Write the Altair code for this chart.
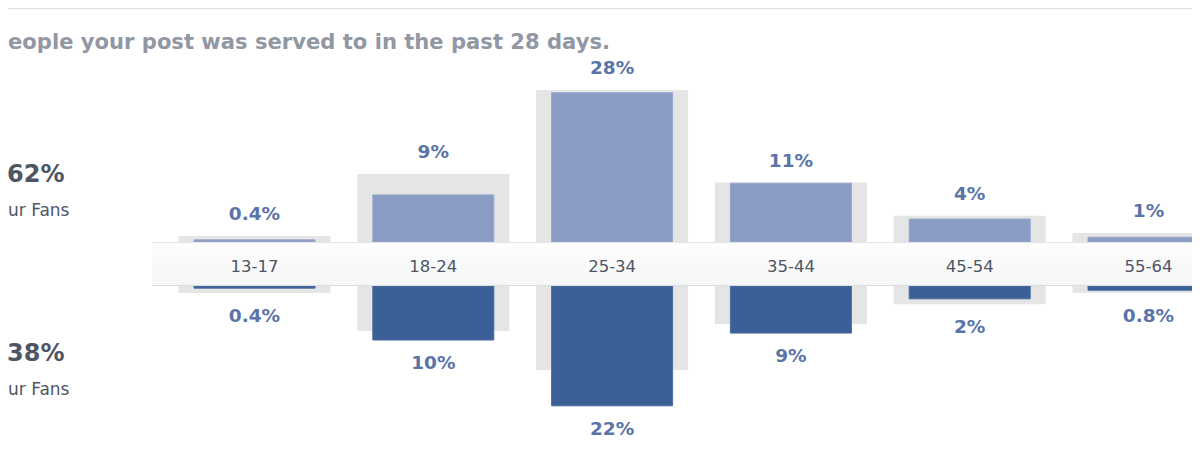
import altair as alt
import pandas as pd

# ---- data ----
ages = ["13-17", "18-24", "25-34", "35-44", "45-54", "55-64"]
top_vals = [0.4, 8.8, 27.9, 11.0, 4.3, 0.9]       # upper (light) bars, %
top_bg = [1.1, 12.7, 28.4, 11.1, 4.9, 1.7]        # grey comparison boxes above
bot_vals = [0.4, 10.1, 22.4, 8.8, 2.4, 0.8]       # lower (dark) bars, %
bot_bg = [1.3, 8.4, 15.7, 7.1, 3.4, 1.3]          # grey comparison boxes below
top_labels = ["0.4%", "9%", "28%", "11%", "4%", "1%"]
bot_labels = ["0.4%", "10%", "22%", "9%", "2%", "0.8%"]
shares = ["62%", "38%"]
share_captions = ["ur Fans", "ur Fans"]
headline = "eople your post was served to in the past 28 days."

df = pd.DataFrame({
    "age": ages, "top": top_vals, "top_bg": top_bg,
    "bot": bot_vals, "bot_bg": bot_bg,
    "top_lbl": top_labels, "bot_lbl": bot_labels,
})
df["top_max"] = df[["top", "top_bg"]].max(axis=1)
df["bot_max"] = df[["bot", "bot_bg"]].max(axis=1)

W, H = 1184, 446
FONT = "DejaVu Sans"

xs = alt.Scale(type="band", domain=ages, range=[157.1, 1229.9], paddingInner=0, paddingOuter=0,
               round=False)
X = alt.X("age:N", scale=xs, axis=None)
top_scale = alt.Scale(domain=[0, 30], range=[234, 73.5], nice=False, zero=True, round=False)
bot_scale = alt.Scale(domain=[0, 30], range=[278, 438.5], nice=False, zero=True, round=False)

base = alt.Chart(df)

top_grey = base.mark_bar(size=152, color="#e5e5e5").encode(
    x=X, y=alt.Y("top_bg:Q", scale=top_scale, axis=None))
bot_grey = base.mark_bar(size=152, color="#e5e5e5").encode(
    x=X, y=alt.Y("bot_bg:Q", scale=bot_scale, axis=None))
top_bar = base.mark_bar(size=121, color="#8b9cc4", stroke="#97a7cc", strokeWidth=1).encode(
    x=X, y=alt.Y("top:Q", scale=top_scale, axis=None))
bot_bar = base.mark_bar(size=121, color="#3b6097", stroke="#4b6da0", strokeWidth=1).encode(
    x=X, y=alt.Y("bot:Q", scale=bot_scale, axis=None))

one = alt.Data(values=[{"k": 1}])
band = alt.Chart(one).mark_rect(
    color=alt.Gradient(gradient="linear", x1=0, y1=0, x2=0, y2=1,
                       stops=[alt.GradientStop(color="#fdfdfd", offset=0),
                              alt.GradientStop(color="#f5f6f7", offset=1)])
).encode(x=alt.value(144), x2=alt.value(W), y=alt.value(234), y2=alt.value(278))
band_top = alt.Chart(one).mark_rule(color="#e2e3e6", strokeWidth=1).encode(
    x=alt.value(144), x2=alt.value(W), y=alt.value(234.5))
band_bot = alt.Chart(one).mark_rule(color="#dadce0", strokeWidth=1).encode(
    x=alt.value(144), x2=alt.value(W), y=alt.value(277.5))
top_line = alt.Chart(one).mark_rule(color="#dddfe2", strokeWidth=1.5).encode(
    x=alt.value(0), x2=alt.value(W), y=alt.value(0.5))

cat_text = base.mark_text(font=FONT, fontSize=16.5, color="#4e5665", baseline="alphabetic").encode(
    x=X, y=alt.value(264), text="age:N")
top_text = base.mark_text(font=FONT, fontSize=18.5, fontWeight="bold", color="#5a74a8",
                          baseline="alphabetic", dy=-16).encode(
    x=X, y=alt.Y("top_max:Q", scale=top_scale, axis=None), text="top_lbl:N")
bot_text = base.mark_text(font=FONT, fontSize=18.5, fontWeight="bold", color="#5a74a8",
                          baseline="alphabetic", dy=29).encode(
    x=X, y=alt.Y("bot_max:Q", scale=bot_scale, axis=None), text="bot_lbl:N")

head = alt.Chart(pd.DataFrame({"t": [headline]})).mark_text(
    font=FONT, fontSize=21.1, fontWeight="bold", color="#9197a3", align="left", baseline="alphabetic"
).encode(x=alt.value(0), y=alt.value(41), text="t:N")

left_layers = []
for share, cap, yb in zip(shares, share_captions, [174, 353]):
    left_layers.append(alt.Chart(pd.DataFrame({"t": [share]})).mark_text(
        font=FONT, fontSize=24, fontWeight="bold", color="#4e5665", align="left", baseline="alphabetic"
    ).encode(x=alt.value(-1), y=alt.value(yb), text="t:N"))
    left_layers.append(alt.Chart(pd.DataFrame({"t": [cap]})).mark_text(
        font=FONT, fontSize=17, color="#4e5665", align="left", baseline="alphabetic"
    ).encode(x=alt.value(0), y=alt.value(yb + 34), text="t:N"))

chart = alt.layer(
    top_line, top_grey, bot_grey, top_bar, bot_bar, band, band_top, band_bot,
    cat_text, top_text, bot_text, head, *left_layers
).resolve_scale(y="independent").properties(
    width=W, height=H, autosize=alt.AutoSizeParams(type="none"), padding=0, background="white"
).configure_view(stroke=None)

chart.save("out.html", embed_options={"renderer": "svg", "actions": False})
